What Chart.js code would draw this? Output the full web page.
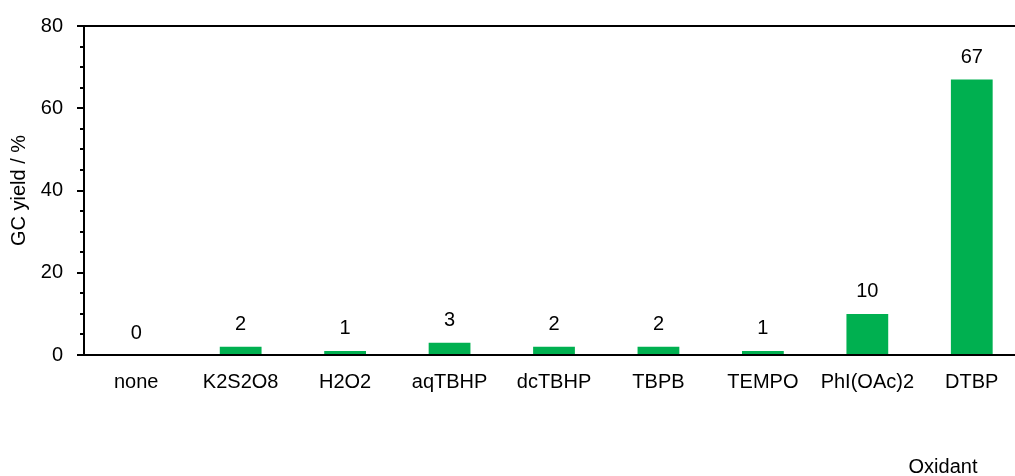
<!DOCTYPE html>
<html>
<head>
<meta charset="utf-8">
<script src="https://cdn.jsdelivr.net/npm/chart.js@4.4.1/dist/chart.umd.min.js"></script>
<style>
  html, body { margin: 0; padding: 0; background: #fff; overflow: hidden; }
  #wrap { width: 1024px; height: 476px; }
</style>
</head>
<body>
<div id="wrap"><canvas id="yieldChart" width="1024" height="476"></canvas></div>
<script>
const oxidants = ['none', 'K2S2O8', 'H2O2', 'aqTBHP', 'dcTBHP', 'TBPB', 'TEMPO', 'PhI(OAc)2', 'DTBP'];
const gcYield = [0, 2, 1, 3, 2, 2, 1, 10, 67];
const yMajorTicks = [0, 20, 40, 60, 80];
const yMinorTicks = [5, 10, 15, 25, 30, 35, 45, 50, 55, 65, 70, 75];

const FONT = 'Liberation Sans, Arial, Helvetica, sans-serif';
const green = '#00b050';

// value labels above each bar
const barLabels = {
  id: 'barLabels',
  afterDatasetsDraw(chart) {
    const ctx = chart.ctx;
    const meta = chart.getDatasetMeta(0);
    ctx.save();
    ctx.font = '20px ' + FONT;
    ctx.fillStyle = '#000';
    ctx.textAlign = 'center';
    ctx.textBaseline = 'middle';
    meta.data.forEach((bar, i) => {
      ctx.fillText(String(gcYield[i]), bar.x, bar.y - 22);
    });
    ctx.restore();
  }
};

// short minor ticks on the y axis + x axis title at the lower right
const extras = {
  id: 'extras',
  afterDraw(chart) {
    const ctx = chart.ctx;
    const y = chart.scales.y;
    ctx.save();
    ctx.strokeStyle = '#000';
    ctx.lineWidth = 2;
    yMinorTicks.forEach(v => {
      const py = Math.round(y.getPixelForValue(v));
      ctx.beginPath();
      ctx.moveTo(y.right - 4, py);
      ctx.lineTo(y.right, py);
      ctx.stroke();
    });
    ctx.font = '20px ' + FONT;
    ctx.fillStyle = '#000';
    ctx.textAlign = 'center';
    ctx.textBaseline = 'middle';
    ctx.fillText('Oxidant', 943, 467);
    ctx.restore();
  }
};

new Chart(document.getElementById('yieldChart'), {
  type: 'bar',
  data: {
    labels: oxidants,
    datasets: [{
      data: gcYield,
      backgroundColor: green,
      borderWidth: 0,
      barPercentage: 0.8,
      categoryPercentage: 0.5
    }]
  },
  options: {
    responsive: false,
    animation: false,
    layout: { padding: { top: 25, right: 0, bottom: 0, left: 0 } },
    plugins: {
      legend: { display: false },
      tooltip: { enabled: false }
    },
    scales: {
      x: {
        grid: { display: false, drawTicks: false },
        border: { display: true, color: '#000', width: 2 },
        ticks: { color: '#000', font: { family: FONT, size: 20 }, padding: 15, maxRotation: 0 },
        afterFit(scale) { scale.height = 121; }
      },
      y: {
        min: 0,
        max: 80,
        afterBuildTicks(scale) { scale.ticks = yMajorTicks.map(v => ({ value: v })); },
        grid: {
          drawOnChartArea: true,
          color: ctx => (ctx.tick && ctx.tick.value === 80 ? '#000' : 'rgba(0,0,0,0)'),
          lineWidth: 2,
          tickLength: 7,
          tickColor: '#000',
          tickWidth: 2
        },
        border: { display: true, color: '#000', width: 2 },
        ticks: { color: '#000', font: { family: FONT, size: 20 }, padding: 14 },
        title: {
          display: true,
          text: 'GC yield / %',
          color: '#000',
          font: { family: FONT, size: 20 },
          padding: { top: 7, bottom: 0 }
        },
        afterFit(scale) { scale.width = 84; }
      }
    }
  },
  plugins: [barLabels, extras]
});
</script>
</body>
</html>
